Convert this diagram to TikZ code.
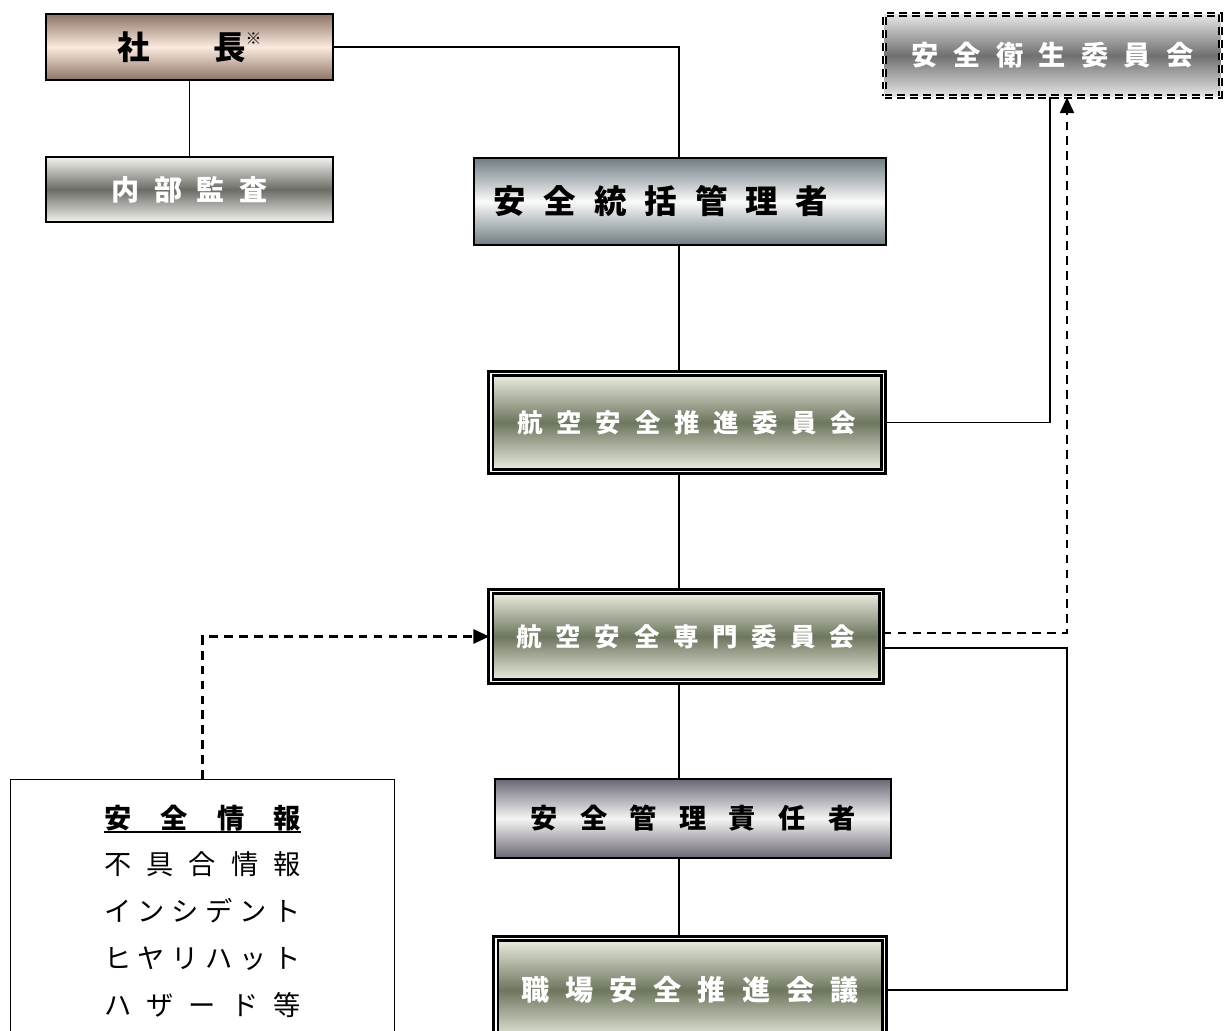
\documentclass[tikz,border=0pt]{standalone}
\usepackage{fontspec}
\setmainfont{Noto Sans CJK JP}
\usetikzlibrary{arrows.meta}

\definecolor{braun}{HTML}{8C7466}
\definecolor{haut}{HTML}{FBEADF}
\definecolor{hellgrau}{HTML}{F2F2EE}
\definecolor{dunkelgrau}{HTML}{6C6C67}
\definecolor{schiefer}{HTML}{6F7D82}
\definecolor{oliv}{HTML}{6D765F}
\definecolor{olivhell}{HTML}{EEF0E3}
\definecolor{lila}{HTML}{6B6775}

\newcommand\unterstrich[1]{\setbox0\hbox{#1}\rlap{\rule[-3pt]{\wd0}{1.2pt}}\box0}
\newcommand\verteilt[2]{\makebox[#1]{\spaceskip 0pt plus 1fill\relax #2}}

\tikzset{
    kasten/.style={draw, line width=1.5pt, inner sep=0pt},
    doppel/.style={draw, line width=1.4pt, double=white, double distance=1.1pt, inner sep=0pt},
    schrift/.style={font={\bfseries\fontsize{#1}{#1}\selectfont}},
    linie/.style={line width=1pt},
    pfeil/.style={line width=1.3pt, dash pattern=on 5pt off 3.5pt, -{Triangle[length=9pt,width=8pt]}}
}

\begin{document}
\begin{tikzpicture}[x=0.02cm, y=-0.02cm]
    \useasboundingbox (0,0) rectangle (1232,1031);
    \clip (0,0) rectangle (1232,1031);
    \path node[kasten, schrift=18.5, top color=braun, bottom color=braun, middle color=haut,
            minimum width=5.74cm, minimum height=1.32cm] (pres) at (189.5,47)
            {\verteilt{2.56cm}{社 長}\raisebox{8.5pt}{\mdseries\fontsize{9}{9}\selectfont ※}}
        node[kasten, schrift=16, text=white, top color=hellgrau, bottom color=hellgrau, middle color=dunkelgrau,
            minimum width=5.74cm, minimum height=1.30cm] (audit) at (189.5,189.5) {\verteilt{3.12cm}{内 部 監 査}}
        node[kasten, schrift=18.5, top color=schiefer, bottom color=schiefer, middle color=white!98!black,
            minimum width=8.24cm, minimum height=1.74cm] (cgo) at (680,201.5)
            {\makebox[7.46cm][l]{\verteilt{6.7cm}{安 全 統 括 管 理 者}}}
        node[doppel, schrift=14.5, text=white, top color=olivhell, bottom color=olivhell, middle color=oliv,
            minimum width=7.86cm, minimum height=1.96cm] (prom) at (687,422.5) {\verteilt{6.78cm}{航 空 安 全 推 進 委 員 会}}
        node[doppel, schrift=14.5, text=white, top color=olivhell, bottom color=olivhell, middle color=oliv,
            minimum width=7.82cm, minimum height=1.80cm] (spec) at (686,636.5) {\verteilt{6.78cm}{航 空 安 全 専 門 委 員 会}}
        node[kasten, schrift=15.5, top color=lila, bottom color=lila, middle color=white!96!black,
            minimum width=7.92cm, minimum height=1.58cm] (mgr) at (693,818.5) {\verteilt{6.5cm}{安 全 管 理 責 任 者}}
        node[doppel, schrift=16, text=white, top color=olivhell, bottom color=olivhell, middle color=oliv,
            minimum width=7.78cm, minimum height=2.06cm] (wp) at (690,990) {\verteilt{6.74cm}{職 場 安 全 推 進 会 議}}
        node[draw, dash pattern=on 4.5pt off 2.8pt, line width=1pt, double=white, double distance=0.9pt,
            inner sep=0pt, schrift=15.5, text=white, top color=white!90!black, bottom color=white!90!black,
            middle color=black!56, minimum width=6.72cm, minimum height=1.64cm] (shc) at (1052.5,55.5) {\verteilt{5.64cm}{安 全 衛 生 委 員 会}}
        node[draw, line width=0.6pt, anchor=north, inner sep=0pt, minimum width=7.7cm, minimum height=5.26cm,
            align=center, font={\fontsize{15.5}{26.6}\selectfont}] (info) at (202.5,779)
            {{\bfseries\unterstrich{\verteilt{3.94cm}{安 全 情 報}}}\\
             \verteilt{3.94cm}{不 具 合 情 報}\\
             \verteilt{3.94cm}{イ ン シ デ ン ト}\\
             \verteilt{3.94cm}{ヒ ヤ リ ハ ッ ト}\\
             \verteilt{3.94cm}{ハ ザ ー ド 等}};
    \coordinate (achse) at (679,0);
    \coordinate (hoch) at (1050,0);
    \coordinate (pfeilx) at (1067,0);
    \coordinate (schleife) at (1067,990);
    \draw[linie] (pres) -- (audit);
    \draw[linie] (pres.east) -| (achse |- cgo.north);
    \draw[linie] (achse |- cgo.south) -- (achse |- prom.north);
    \draw[linie] (achse |- prom.south) -- (achse |- spec.north);
    \draw[linie] (achse |- spec.south) -- (achse |- mgr.north);
    \draw[linie] (achse |- mgr.south) -- (achse |- wp.north);
    \draw[linie] (prom.east) -| (hoch |- shc.south);
    \draw[pfeil] ([yshift=0.07cm]spec.east) -| (pfeilx |- shc.south);
    \draw[linie] ([yshift=-0.23cm]spec.east) -| (schleife) -- (wp.east);
    \draw[pfeil] (info.north) |- (spec.west);
\end{tikzpicture}
\end{document}
